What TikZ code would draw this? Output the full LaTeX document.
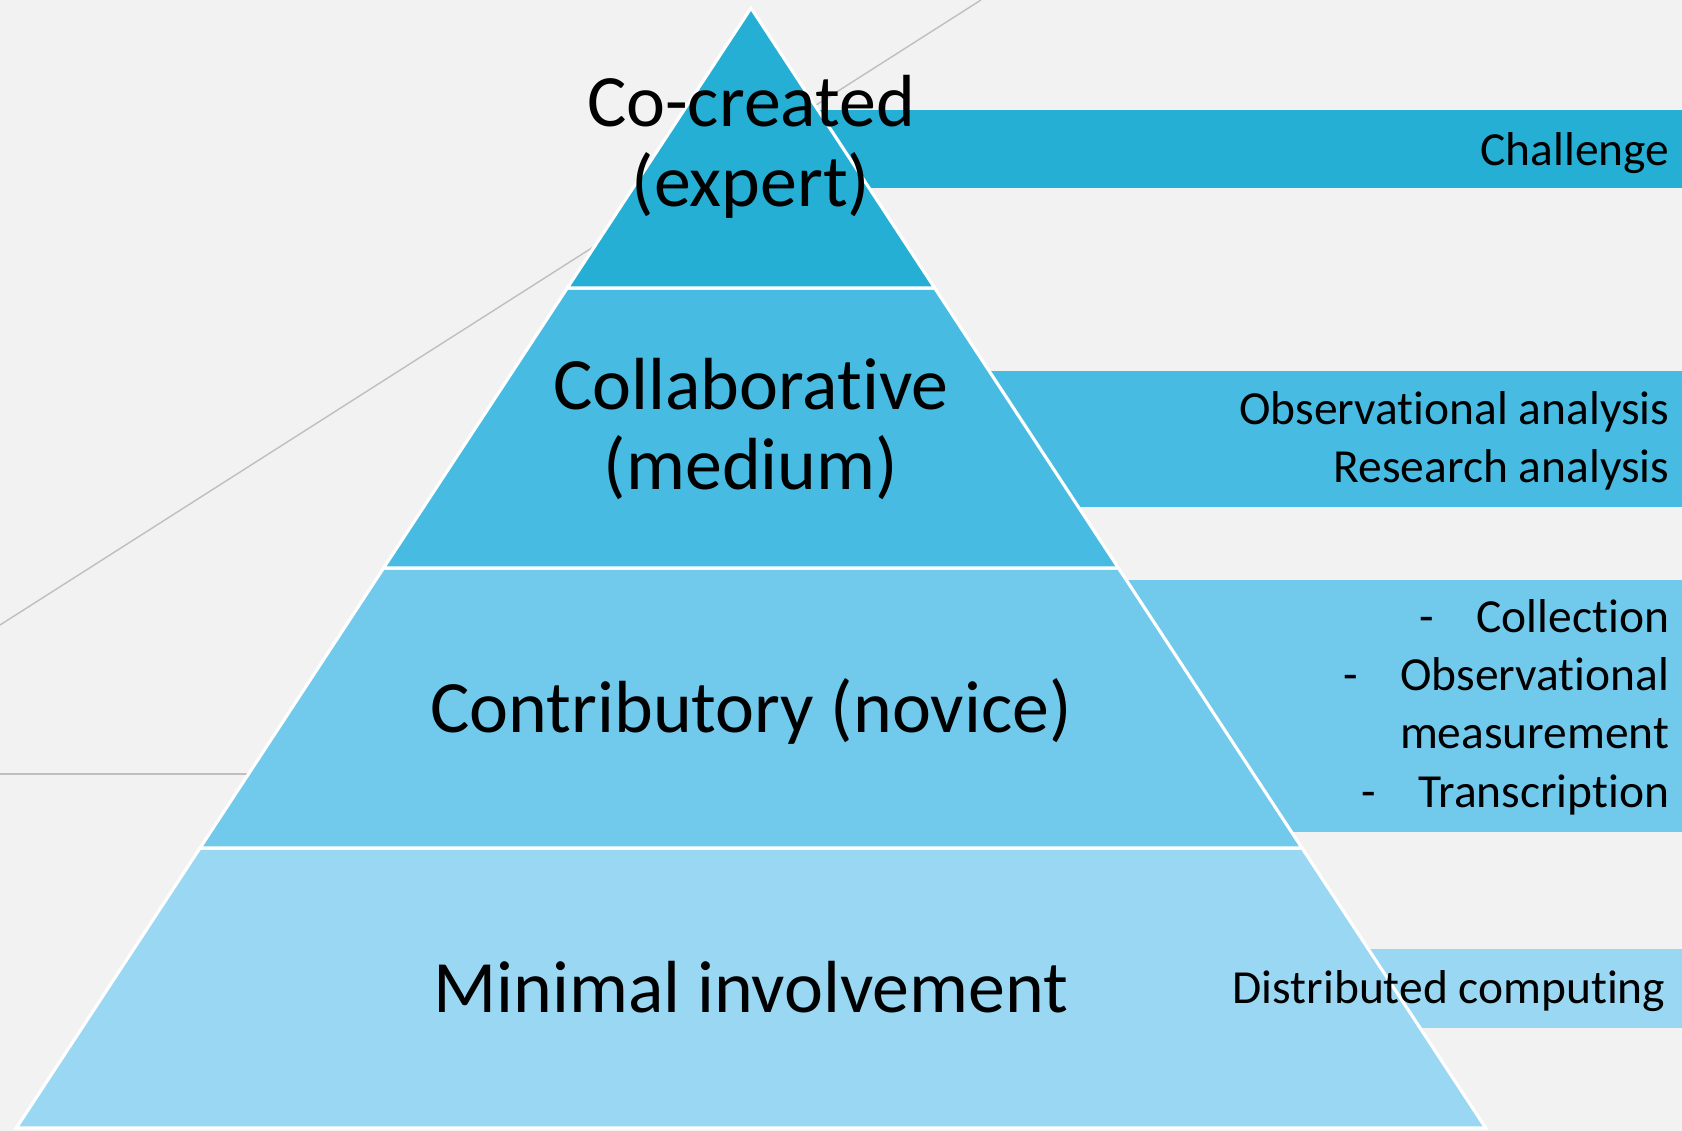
\documentclass[tikz,border=0pt]{standalone}
\usepackage{fontspec}
\setmainfont{Carlito}[RawFeature=-liga, RawFeature=-rlig, RawFeature=-clig, RawFeature=-calt]

\definecolor{bgfill}{HTML}{F2F2F2}
\definecolor{tierA}{HTML}{25AFD4}
\definecolor{tierB}{HTML}{47BBE1}
\definecolor{tierC}{HTML}{71C9EC}
\definecolor{tierD}{HTML}{99D7F2}
\definecolor{guide}{HTML}{BFBFBF}

\tikzset{
  tier/.style={draw=white, line width=0.9pt, line join=miter},
  level/.style={font=\fontsize{21}{23}\selectfont, align=center, inner sep=0pt},
  task/.style={font=\fontsize{13.5}{16.5}\selectfont, align=right, inner sep=0pt},
}

\begin{document}
\begin{tikzpicture}[x=0.01cm,y=-0.01cm]
  \useasboundingbox[fill=bgfill] (0,0) rectangle (1682,1131);

  % thin guide lines behind everything
  \coordinate (G1) at (0,625);
  \coordinate (G2) at (981,0);
  \coordinate (G3) at (0,774);
  \coordinate (G4) at (300,774);
  \draw[guide, line width=0.4pt] (G1) -- (G2);
  \draw[guide, line width=0.4pt] (G3) -- (G4);

  % side bars, partly hidden by the pyramid
  \foreach \col/\top/\bot in {tierA/110/188, tierB/371/507, tierC/580/832, tierD/949/1028}
    \fill[\col] (751,\top) rectangle (1682,\bot);

  % pyramid corners
  \coordinate (A) at (751,8);
  \coordinate (L1) at (567.3,288);
  \coordinate (R1) at (934.7,288);
  \coordinate (L2) at (383.6,568);
  \coordinate (R2) at (1118.4,568);
  \coordinate (L3) at (200,848);
  \coordinate (R3) at (1302,848);
  \coordinate (L4) at (16.3,1128);
  \coordinate (R4) at (1485.7,1128);

  \filldraw[tier, fill=tierD] (L3) -- (R3) -- (R4) -- (L4) -- cycle;
  \filldraw[tier, fill=tierC] (L2) -- (R2) -- (R3) -- (L3) -- cycle;
  \filldraw[tier, fill=tierB] (L1) -- (R1) -- (R2) -- (L2) -- cycle;
  \filldraw[tier, fill=tierA] (A) -- (R1) -- (L1) -- cycle;

  % levels (base = last line)
  \node[level, anchor=base] (expert) at (751,207) {Co-created\\(expert)};
  \node[level, anchor=base] (medium) at (751,490) {Collaborative\\(medium)};
  \node[level, anchor=base] (novice) at (751,732) {Contributory (novice)};
  \node[level, anchor=base] (minimal) at (751,1012) {Minimal involvement};

  % tasks
  \node[task, anchor=base east] (challenge) at (1670,166) {Challenge};
  \node[task, anchor=base east] (analysis) at (1670,483) {Observational analysis\\Research analysis};
  \node[task, anchor=base east] (collect) at (1670,807)
    {-\hspace{12pt}Collection\\-\hspace{12pt}Observational\\measurement\\-\hspace{12pt}Transcription};
  \node[task, anchor=base east] (computing) at (1666,1003) {Distributed computing};
\end{tikzpicture}
\end{document}
